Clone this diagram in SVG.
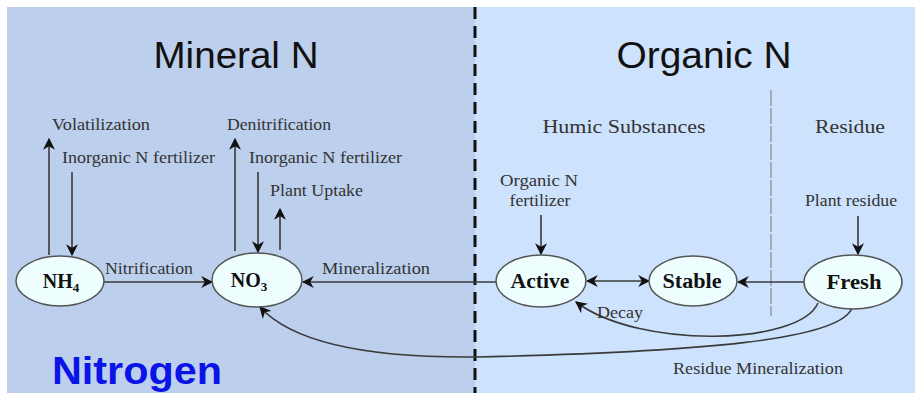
<svg xmlns="http://www.w3.org/2000/svg" width="919" height="397" viewBox="0 0 919 397">
<style>
.t{font-family:"Liberation Serif","Times New Roman",serif;font-size:16px;fill:#333}
.s{font-family:"Liberation Serif","Times New Roman",serif;font-size:19px;fill:#333;text-anchor:middle}
.n{font-family:"Liberation Serif","Times New Roman",serif;font-size:20px;font-weight:bold;fill:#111;text-anchor:middle}
.h{font-family:"Liberation Sans",Arial,sans-serif;font-size:36px;fill:#111;text-anchor:middle}
.e{fill:#eefeff;stroke:#555;stroke-width:1.5}
.c{fill:none;stroke:#3a3a3a;stroke-width:1.6}
</style>
<defs>
<marker id="a" viewBox="0 0 10 10" refX="9" refY="5" markerWidth="12" markerHeight="12" markerUnits="userSpaceOnUse" orient="auto-start-reverse">
<path d="M0,0 L10,5 L0,10 L3,5 z" fill="#111"/>
</marker>
</defs>
<rect x="0" y="0" width="919" height="397" fill="#fff"/>
<rect x="7" y="7" width="468" height="386" fill="#bccfec"/>
<rect x="475" y="7" width="440" height="386" fill="#cde2fd"/>
<line x1="475" y1="7" x2="475" y2="393" stroke="#111" stroke-width="3" stroke-dasharray="12,7"/>
<line x1="771" y1="90" x2="771" y2="316" stroke="#777" stroke-width="1" stroke-dasharray="16,2"/>
<text class="h" x="236" y="68" textLength="165" lengthAdjust="spacingAndGlyphs">Mineral N</text>
<text class="h" x="704" y="68" textLength="175" lengthAdjust="spacingAndGlyphs">Organic N</text>
<text x="52" y="384" font-family="'Liberation Sans',Arial,sans-serif" font-size="39" font-weight="bold" fill="#0a14e6" textLength="170" lengthAdjust="spacingAndGlyphs">Nitrogen</text>
<text class="s" x="624" y="133" textLength="163" lengthAdjust="spacingAndGlyphs">Humic Substances</text>
<text class="s" x="850" y="133" textLength="70" lengthAdjust="spacingAndGlyphs">Residue</text>
<g id="connectors">
<line class="c" x1="49" y1="255" x2="49" y2="139" marker-end="url(#a)"/>
<line class="c" x1="72" y1="172" x2="72" y2="255" marker-end="url(#a)"/>
<line class="c" x1="235" y1="251" x2="235" y2="139" marker-end="url(#a)"/>
<line class="c" x1="258" y1="172" x2="258" y2="252" marker-end="url(#a)"/>
<line class="c" x1="280" y1="250" x2="280" y2="209" marker-end="url(#a)"/>
<line class="c" x1="104" y1="282" x2="212" y2="282" marker-end="url(#a)"/>
<line class="c" x1="496" y1="282" x2="303" y2="282" marker-end="url(#a)"/>
<line class="c" x1="587" y1="281" x2="649" y2="281" marker-start="url(#a)" marker-end="url(#a)"/>
<line class="c" x1="804" y1="282" x2="738" y2="282" marker-end="url(#a)"/>
<line class="c" x1="541" y1="215" x2="541" y2="254" marker-end="url(#a)"/>
<line class="c" x1="858" y1="216" x2="858" y2="254" marker-end="url(#a)"/>
<path class="c" d="M818 303 C800 345 640 350 576 302" marker-end="url(#a)"/>
<path class="c" d="M852 308 C840 340 700 352 475 357 C360 358 290 340 260 307" marker-end="url(#a)"/>
<text class="t" x="52" y="130" textLength="98" lengthAdjust="spacingAndGlyphs">Volatilization</text>
<text class="t" x="62" y="163" textLength="153" lengthAdjust="spacingAndGlyphs">Inorganic N fertilizer</text>
<text class="t" x="227" y="130" textLength="104" lengthAdjust="spacingAndGlyphs">Denitrification</text>
<text class="t" x="249" y="163" textLength="153" lengthAdjust="spacingAndGlyphs">Inorganic N fertilizer</text>
<text class="t" x="270" y="196" textLength="93" lengthAdjust="spacingAndGlyphs">Plant Uptake</text>
<text class="t" x="105" y="274" textLength="88" lengthAdjust="spacingAndGlyphs">Nitrification</text>
<text class="t" x="322" y="274" textLength="108" lengthAdjust="spacingAndGlyphs">Mineralization</text>
<text class="t" x="539" y="186" text-anchor="middle" textLength="78" lengthAdjust="spacingAndGlyphs">Organic N</text>
<text class="t" x="540" y="206" text-anchor="middle" textLength="61" lengthAdjust="spacingAndGlyphs">fertilizer</text>
<text class="t" x="851" y="206" text-anchor="middle" textLength="92" lengthAdjust="spacingAndGlyphs">Plant residue</text>
<text class="t" x="597" y="318" textLength="46" lengthAdjust="spacingAndGlyphs">Decay</text>
<text class="t" x="673" y="374" textLength="170" lengthAdjust="spacingAndGlyphs">Residue Mineralization</text>
</g>
<g id="nh4"><ellipse class="e" cx="60" cy="281" rx="44" ry="25"/><text class="n" x="61" y="288">NH<tspan font-size="13" dy="4">4</tspan></text></g>
<g id="no3"><ellipse class="e" cx="257" cy="280" rx="45" ry="27"/><text class="n" x="249" y="287">NO<tspan font-size="13" dy="4">3</tspan></text></g>
<g id="active"><ellipse class="e" cx="541" cy="281" rx="45" ry="26"/><text class="n" x="540" y="288" textLength="59" lengthAdjust="spacingAndGlyphs">Active</text></g>
<g id="stable"><ellipse class="e" cx="693" cy="281" rx="44" ry="25"/><text class="n" x="692" y="288" textLength="59" lengthAdjust="spacingAndGlyphs">Stable</text></g>
<g id="fresh"><ellipse class="e" cx="853" cy="282" rx="49" ry="27"/><text class="n" x="854" y="289" textLength="55" lengthAdjust="spacingAndGlyphs">Fresh</text></g>
</svg>
